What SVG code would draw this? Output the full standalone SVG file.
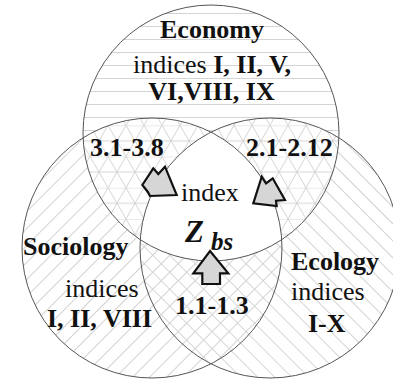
<svg xmlns="http://www.w3.org/2000/svg" width="393" height="382" viewBox="0 0 393 382">
<style>
.b{font-weight:bold}
.ring{fill:none;stroke:#555;stroke-width:1}
.arrow{fill:#d6d6d6;stroke:#111;stroke-width:2.2;stroke-linejoin:miter}
.h{stroke:#cfcfcf;stroke-width:0.9}
</style>
<defs>
<pattern id="pH" patternUnits="userSpaceOnUse" width="20" height="13">
<line class="h" x1="0" y1="0.5" x2="20" y2="0.5"/>
</pattern>
<pattern id="pS" patternUnits="userSpaceOnUse" width="20" height="12" patternTransform="rotate(-45)">
<line class="h" x1="0" y1="0.5" x2="20" y2="0.5"/>
</pattern>
<pattern id="pE" patternUnits="userSpaceOnUse" width="20" height="12" patternTransform="rotate(45)">
<line class="h" x1="0" y1="0.5" x2="20" y2="0.5"/>
</pattern>
<pattern id="pT" patternUnits="userSpaceOnUse" width="18" height="31.2" y="0.5">
<line class="h" x1="0" y1="0" x2="18" y2="0"/>
<line class="h" x1="0" y1="15.6" x2="18" y2="15.6"/>
<line class="h" x1="0" y1="0" x2="18" y2="31.2"/>
<line class="h" x1="18" y1="0" x2="0" y2="31.2"/>
</pattern>
<clipPath id="cEco"><circle cx="211" cy="133" r="128"/></clipPath>
<clipPath id="cSoc"><circle cx="152" cy="248" r="130"/></clipPath>
</defs>

<g id="fills">
<circle cx="152" cy="248" r="130" fill="#fff"/>
<circle cx="270" cy="248" r="130" fill="#fff"/>
<circle cx="152" cy="248" r="130" fill="url(#pS)"/>
<circle cx="270" cy="248" r="130" fill="url(#pE)"/>
<circle cx="211" cy="133" r="128" fill="#fff"/>
<circle cx="211" cy="133" r="128" fill="url(#pH)"/>
<g clip-path="url(#cEco)">
<circle cx="152" cy="248" r="130" fill="#fff"/>
<circle cx="270" cy="248" r="130" fill="#fff"/>
<circle cx="152" cy="248" r="130" fill="url(#pT)"/>
<circle cx="270" cy="248" r="130" fill="url(#pT)"/>
<g clip-path="url(#cSoc)">
<circle cx="270" cy="248" r="130" fill="#fff"/>
</g>
</g>
</g>

<g font-family="Liberation Serif, Times New Roman, DejaVu Serif, serif" font-size="26" fill="#111">
<g id="economy">
<circle class="ring" cx="211" cy="133" r="128"/>
<text class="b" x="212" y="38" text-anchor="middle">Economy</text>
<text x="212" y="73" text-anchor="middle">indices <tspan class="b">I, II, V,</tspan></text>
<text class="b" x="211.5" y="100" text-anchor="middle">VI,VIII, IX</text>
</g>

<g id="sociology">
<circle class="ring" cx="152" cy="248" r="130"/>
<text class="b" x="23" y="255">Sociology</text>
<text x="65" y="297">indices</text>
<text class="b" x="47" y="327">I, II, VIII</text>
</g>

<g id="ecology">
<circle class="ring" cx="270" cy="248" r="130"/>
<text class="b" x="291" y="270">Ecology</text>
<text x="291" y="300">indices</text>
<text class="b" x="308" y="332">I-X</text>
</g>

<g id="overlap-eco-soc">
<text class="b" x="90" y="156">3.1-3.8</text>
</g>
<g id="overlap-eco-ecol">
<text class="b" x="246" y="156">2.1-2.12</text>
</g>
<g id="overlap-soc-ecol">
<text class="b" x="175" y="314">1.1-1.3</text>
</g>

<g id="center">
<text x="181" y="201">index</text>
<text class="b" x="185" y="242" font-style="italic" font-size="31">Z</text>
<text class="b" x="211" y="250" font-style="italic" font-size="25">bs</text>
</g>
</g>

<g id="connectors">
<polygon class="arrow" points="142.3,185 153.3,168.3 158.3,174 165,166.7 176.7,195 150,196 147.7,191.7"/>
<polygon class="arrow" points="261.7,176.7 266,183.3 272.7,178.3 285,200 276,200.7 276.7,206 253.3,203.3"/>
<polygon class="arrow" points="210,251 228.3,273.3 220,273.3 220,284 202.3,284 202.3,273.3 193.3,273.3"/>
</g>
</svg>
